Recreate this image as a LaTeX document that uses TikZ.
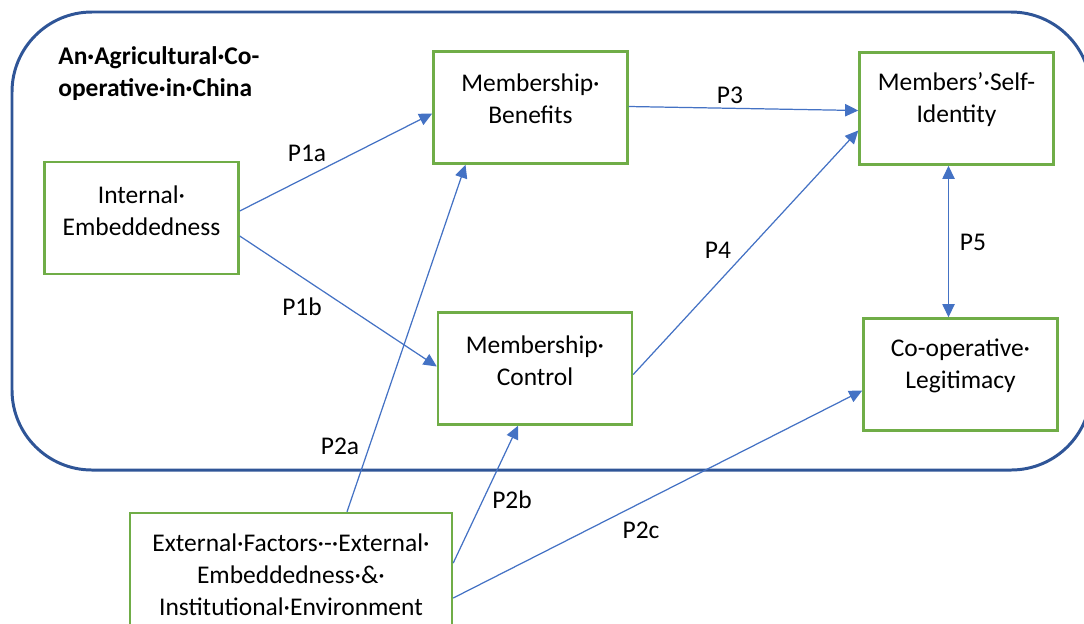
\documentclass[tikz,border=0pt]{standalone}
\usepackage{fontspec}
\setmainfont{Carlito}
\usetikzlibrary{arrows.meta,calc}

\definecolor{boxgreen}{RGB}{112,173,71}
\definecolor{arrowblue}{RGB}{68,114,196}
\definecolor{frameblue}{RGB}{47,85,151}

\tikzset{
  factorbox/.style={draw=boxgreen, line width=1.4pt, minimum width=194*0.02cm, minimum height=112*0.02cm, inner sep=0pt},
  boxtext/.style={align=center, inner sep=0pt, font=\fontsize{14.5}{18.2}\selectfont},
  plabel/.style={inner sep=0pt, font=\fontsize{14.5}{18.2}\selectfont},
  link/.style={draw=arrowblue, line width=0.7pt, -{Triangle[length=7.5pt,width=7pt]}},
}

\begin{document}
\begin{tikzpicture}[x=0.02cm, y=-0.02cm]

        % Fix the picture size (pixels of the reference)
        \useasboundingbox (0,0) rectangle (1084,623);

        % Draw the co-operative frame (rounded, runs off the right edge)
        \draw[frameblue, line width=1.7pt, rounded corners=1.6cm] (12,12) rectangle (1091,470);

        % Title of the frame
        \node[anchor=north west, align=left, inner sep=0pt, font=\fontsize{14.5}{18.2}\selectfont\bfseries] (title) at (58,46)
          {An·Agricultural·Co-\\operative·in·China};

        % Draw the boxes
        \node[factorbox] (bIE) at (141.5,218) {};
        \node[factorbox] (bMB) at (530.5,107.5) {};
        \node[factorbox] (bMC) at (535,368.5) {};
        \node[factorbox] (bSI) at (956.5,108.5) {};
        \node[factorbox] (bCL) at (960.5,374.5) {};
        \node[factorbox, minimum width=322*0.02cm, minimum height=126*0.02cm] (bEF) at (291,576) {};

        % Texts in the boxes (set near the top, as in the word layout)
        \node[boxtext] (tIE) at ($(bIE.north)+(0,50)$) {Internal·\\Embeddedness};
        \node[boxtext] (tMB) at ($(bMB.north)+(0,48)$) {Membership·\\Benefits};
        \node[boxtext] (tMC) at ($(bMC.north)+(0,49)$) {Membership·\\Control};
        \node[boxtext] (tSI) at ($(bSI.north)+(0,48)$) {Members’·Self-\\Identity};
        \node[boxtext] (tCL) at ($(bCL.north)+(0,49)$) {Co-operative·\\Legitimacy};
        \node[boxtext] (tEF) at ($(bEF.north)+(0,63)$) {External·Factors·-·External·\\Embeddedness·\&·\\Institutional·Environment};

        % Arrows between the boxes
        \draw[link] ($(bIE.east)+(0,-7)$) -- ($(bMB.west)+(0,6)$);
        \draw[link] ($(bIE.east)+(0,18)$) -- ($(bMC.west)+(0,-2)$);
        \draw[link] ($(bMB.east)+(0,-1)$) -- ($(bSI.west)+(0,2)$);
        \draw[link] ($(bMC.east)+(0,6)$) -- ($(bSI.west)+(0,22)$);
        \draw[link, {Triangle[length=7.5pt,width=7pt]}-{Triangle[length=7.5pt,width=7pt]}] ($(bSI.south)+(-8,0)$) -- ($(bCL.north)+(-12,0)$);
        \draw[link] ($(bEF.north)+(56,0)$) -- ($(bMB.south)+(-65,0)$);
        \draw[link] ($(bEF.east)+(0,-13)$) -- ($(bMC.south)+(-17,0)$);
        \draw[link] ($(bEF.east)+(0,22)$) -- ($(bCL.west)+(0,16)$);

        % Labels of the propositions
        \node[plabel] (lP1a) at (307,153) {P1a};
        \node[plabel] (lP1b) at (302,307) {P1b};
        \node[plabel] (lP3) at (730,95) {P3};
        \node[plabel] (lP4) at (718,250) {P4};
        \node[plabel] (lP5) at (973,242) {P5};
        \node[plabel] (lP2a) at (340,446) {P2a};
        \node[plabel] (lP2b) at (512,500) {P2b};
        \node[plabel] (lP2c) at (641,530) {P2c};

    \end{tikzpicture}
\end{document}
